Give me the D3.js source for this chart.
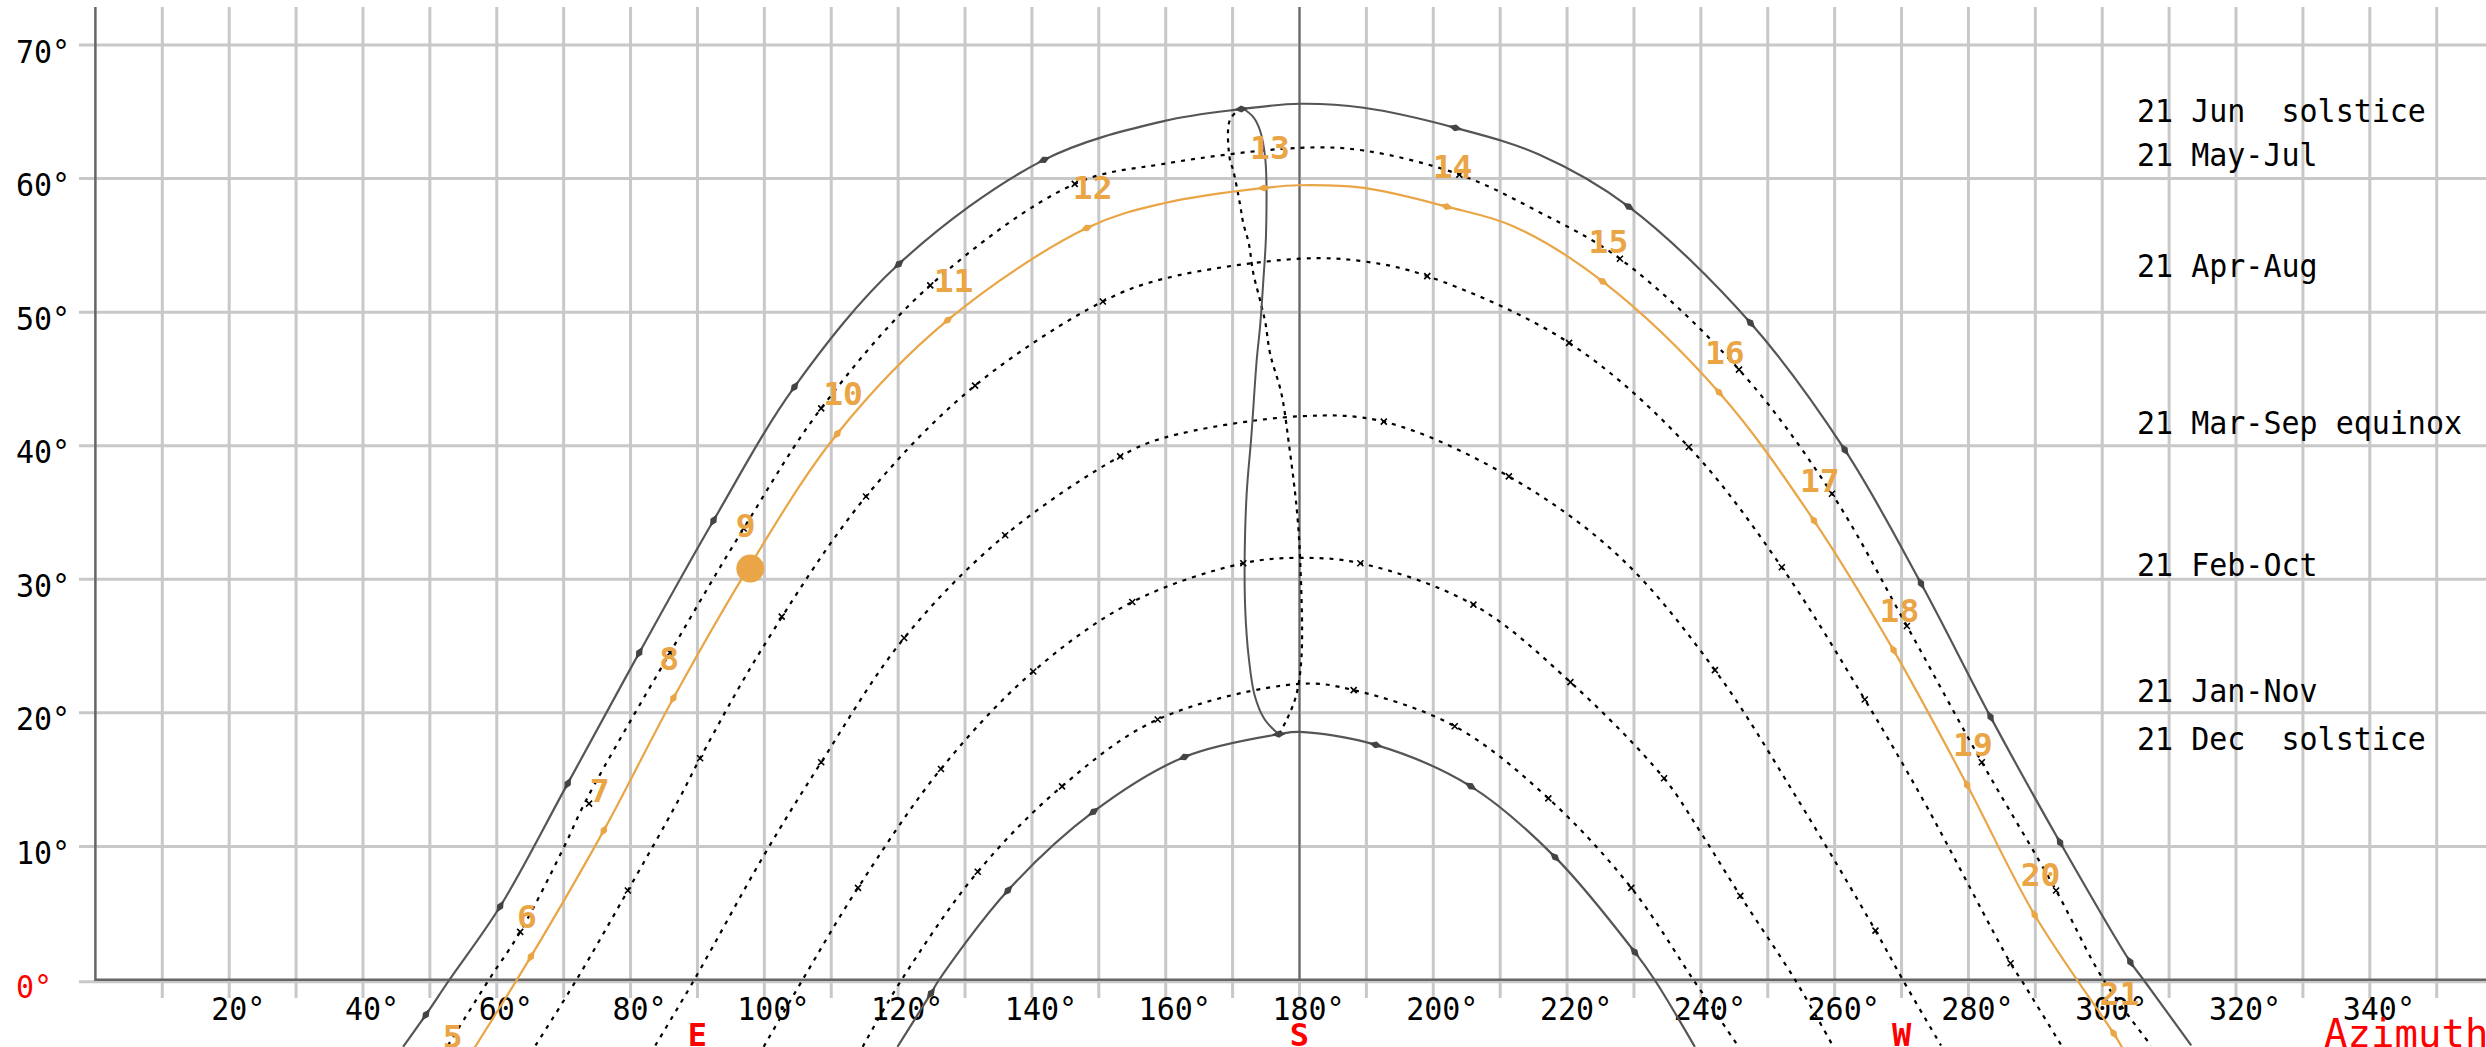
<!DOCTYPE html>
<html><head><meta charset="utf-8">
<script src="https://cdn.jsdelivr.net/npm/d3@7"></script>
<style>
html,body{margin:0;padding:0;background:#fff;overflow:hidden}
svg{display:block}
text{font-family:"DejaVu Sans Mono",monospace;white-space:pre}
</style></head><body>
<svg id="chart" width="2486" height="1047" xml:space="preserve"></svg>
<script>
// ---------- tick values ----------
const xGridValues = [10,20,30,40,50,60,70,80,90,100,110,120,130,140,150,160,170,180,190,200,210,220,230,240,250,260,270,280,290,300,310,320,330,340,350];
const xLabelValues = [20,40,60,80,100,120,140,160,180,200,220,240,260,280,300,320,340];
const yTickValues = [0,10,20,30,40,50,60,70];
const compassLabels = ["E","S","W"];
const compassAz = [90,180,270];
const axisTitle = "Azimuth";

// ---------- series (azimuth deg, altitude deg) ----------
const seriesNames = ["21 Jun  solstice","21 May-Jul","21 Apr-Aug","21 Mar-Sep equinox","21 Feb-Oct","21 Jan-Nov","21 Dec  solstice"];

const junSolstice = [[46.0,-5.0],[49.4,-2.6],[52.9,0],[60.5,5.5],[70.6,14.7],[81.3,24.5],[92.4,34.4],[104.5,44.4],[120.1,53.6],[141.8,61.4],[159.7,64.3],[171.3,65.2],[180,65.6],[189.6,65.3],[203.3,63.8],[215.8,61.8],[229.2,57.9],[247.4,49.2],[261.5,39.7],[272.9,29.7],[283.3,19.7],[293.7,10.3],[304.2,1.35],[306.2,0],[313.3,-4.9]];
const mayJul = [[52.7,-4.9],[58.8,0],[63.5,3.6],[70.0,9.9],[73.4,13.5],[85.9,24.5],[96.9,33.8],[108.5,42.8],[124.8,52.0],[146.4,59.6],[159.7,61.1],[180,62.3],[189.6,62.1],[203.9,60.3],[215.8,57.5],[227.9,54.0],[245.7,45.7],[259.6,36.4],[270.8,26.5],[282.0,16.3],[293.1,6.7],[300.2,0],[307.3,-4.9]];
const aprAug = [[65.8,-4.9],[71.9,0],[79.6,6.7],[87.2,13.5],[90.4,16.6],[99.9,25.0],[115.2,36.2],[131.5,44.5],[150.6,50.8],[159.7,52.5],[180,54.0],[189.6,53.8],[199.1,52.7],[220.3,47.7],[238.2,39.9],[252.1,30.9],[264.5,21.0],[273.2,13.5],[286.3,1.25],[287.9,0],[293.9,-4.9]];
const equinox = [[83.7,-4.9],[89.5,0],[99.9,9.3],[108.5,16.3],[120.9,25.6],[136.0,33.3],[153.2,39.2],[159.8,40.6],[180,42.2],[192.6,41.8],[211.3,37.7],[227.8,31.7],[242.1,23.2],[254.5,13.5],[266.1,3.7],[270.2,0],[275.9,-4.9]];
const febOct = [[99.9,-5.0],[105.7,0],[114.0,6.9],[126.4,15.8],[140.2,23.1],[155.0,28.3],[171.6,31.2],[180,31.6],[189.1,31.2],[206.0,28.1],[220.5,22.3],[234.5,15.1],[239.9,11.1],[245.9,6.3],[254.1,0],[259.7,-4.9]];
const janNov = [[114.7,-5.0],[120.5,0],[131.9,8.1],[144.5,14.5],[158.8,19.5],[180,22.17],[188.1,21.7],[203.2,19.0],[217.2,13.6],[229.6,6.9],[238.9,0],[245.5,-4.9]];
const decSolstice = [[119.9,-5.0],[124.9,-1.0],[126.1,0],[136.4,6.7],[149.2,12.6],[162.8,16.7],[176.9,18.4],[180,18.57],[191.4,17.6],[205.6,14.5],[218.2,9.2],[230.1,2.1],[233.1,0],[239.1,-5.0]];

// today's path (orange)
const todayPath = [[54.0,-7.2],[65.1,1.75],[76.0,11.2],[86.4,21.1],[97.8,31.0],[110.9,40.9],[127.4,49.4],[148.2,56.3],[159.7,58.15],[174.7,59.3],[180,59.5],[189.6,59.3],[202.0,57.9],[212.1,56.4],[225.3,52.3],[242.7,44.0],[256.9,34.4],[268.8,24.7],[279.8,14.6],[289.9,4.87],[301.7,-4.0],[303.5,-5.5]];
const todayHours = [5,6,7,8,9,10,11,12,13,14,15,16,17,18,19,20,21];
const todayMarkers = [[54.0,-7.2],[65.1,1.75],[76.0,11.2],[86.4,21.1],[97.8,31.0],[110.9,40.9],[127.4,49.4],[148.2,56.3],[174.7,59.3],[202.0,57.9],[225.3,52.3],[242.7,44.0],[256.9,34.4],[268.8,24.7],[279.8,14.6],[289.9,4.87],[301.7,-4.0]];
const sunNow = [97.9,30.8];

// hour markers on solstice curves
const junMarkers = [[49.4,-2.6],[60.5,5.5],[70.6,14.7],[81.3,24.5],[92.4,34.4],[104.5,44.4],[120.1,53.6],[141.8,61.4],[171.3,65.2],[203.3,63.8],[229.2,57.9],[247.4,49.2],[261.5,39.7],[272.9,29.7],[283.3,19.7],[293.7,10.3],[304.2,1.35]];
const decMarkers = [[124.9,-1.0],[136.4,6.7],[149.2,12.6],[162.8,16.7],[176.9,18.4],[191.4,17.6],[205.6,14.5],[218.2,9.2],[230.1,2.1]];

// hour ticks on dotted curves
const mayJulTicks = [[63.5,3.6],[73.8,13.2],[85.9,24.5],[96.9,33.8],[108.5,42.8],[124.8,52.0],[146.4,59.6],[203.9,60.3],[227.9,54.0],[245.7,45.7],[259.6,36.4],[270.8,26.5],[282.0,16.3],[293.1,6.7]];
const aprAugTicks = [[79.6,6.7],[90.4,16.6],[102.6,27.2],[115.2,36.2],[131.5,44.5],[150.6,50.8],[199.1,52.7],[220.3,47.7],[238.2,39.9],[252.1,30.9],[264.5,21.0],[286.3,1.25]];
const equinoxTicks = [[108.5,16.3],[120.9,25.6],[136.0,33.3],[153.2,39.2],[192.6,41.8],[211.3,37.7],[242.1,23.2],[266.1,3.7]];
const febOctTicks = [[114.0,6.9],[126.4,15.8],[140.2,23.1],[155.0,28.3],[171.6,31.2],[189.1,31.2],[206.0,28.1],[220.5,22.3],[234.5,15.1],[245.9,6.3]];
const janNovTicks = [[131.9,8.1],[144.5,14.5],[158.8,19.5],[188.1,21.7],[203.2,19.0],[217.2,13.6],[229.6,6.9]];

// analemma at 13h
const analemmaSolid = [[171.4,65.3],[173.1,64.6],[174.1,63.6],[174.9,61.4],[175.0,55.9],[174.6,52.4],[174.1,48.9],[173.6,46.4],[172.8,40.7],[172.1,36.4],[171.8,31.4],[171.9,27.6],[172.4,24.2],[173.3,21.3],[174.8,19.5],[176.9,18.4]];
const analemmaDotted = [[171.4,65.3],[169.6,64.4],[169.6,61.4],[170.1,60.6],[171.1,58.1],[171.6,56.65],[172.4,55.2],[173.1,52.9],[174.1,50.9],[174.9,49.2],[175.6,46.9],[177.3,43.9],[178.4,40.2],[179.6,35.2],[180.1,31.4],[180.3,24.2],[179.5,21.3],[178.1,19.5],[176.9,18.4]];

// ---------- drawing ----------
const W = 2486, H = 1047, TOP = 7;
const ORANGE = "#e9a546", DARK = "#555", GRID = "#c8c8c8", AXIS = "#666", RED = "#ff0000";
const svg = d3.select("#chart");
const x = d3.scaleLinear().domain([0,180]).range([95.4,1299.5]);
const y = d3.scaleLinear().domain([0,70]).range([980,45]);

svg.append("defs").append("clipPath").attr("id","plot")
  .append("rect").attr("x",x(0)).attr("y",TOP).attr("width",W-x(0)).attr("height",H-TOP);

// grid
const gv = svg.append("g");
gv.selectAll("line").data(xGridValues).join("line")
  .attr("x1",d=>x(d)).attr("x2",d=>x(d)).attr("y1",TOP).attr("y2",998)
  .attr("stroke",GRID).attr("stroke-width",3);
const gh = svg.append("g");
gh.selectAll("line").data(yTickValues).join("line")
  .attr("x1",79).attr("x2",W).attr("y1",d=>y(d)+(d===0?1.8:0)).attr("y2",d=>y(d)+(d===0?1.8:0))
  .attr("stroke",GRID).attr("stroke-width",3);

// axes
svg.append("line").attr("x1",x(0)).attr("x2",x(0)).attr("y1",TOP).attr("y2",y(0)+1)
  .attr("stroke",AXIS).attr("stroke-width",2.5);
svg.append("line").attr("x1",x(0)).attr("x2",W).attr("y1",y(0)-0.3).attr("y2",y(0)-0.3)
  .attr("stroke",AXIS).attr("stroke-width",2.6);
svg.append("line").attr("x1",x(180)).attr("x2",x(180)).attr("y1",TOP).attr("y2",y(0))
  .attr("stroke",AXIS).attr("stroke-width",2);

// text helper
function label(g, str, px, py, o) {
  o = o || {};
  return g.append("text")
    .attr("transform",`translate(${px},${py}) scale(${o.sx||1},${o.sy||1.06})`)
    .attr("font-size",o.size||30)
    .attr("font-weight",o.weight||"normal")
    .attr("fill",o.fill||"#000")
    .attr("text-anchor",o.anchor||"start")
    .text(str);
}
const CW = 30*0.602;
const tl = svg.append("g");
yTickValues.forEach(v => label(tl, v+"°", 16, y(v)+17.5, {fill: v===0?RED:"#000"}));
xLabelValues.forEach(v => label(tl, v+"°", x(v)-CW*String(v).length/2, 1020));
compassLabels.forEach((c,i) => label(tl, c, x(compassAz[i]), 1046, {anchor:"middle", weight:"bold", size:32, fill:RED, sy:1.02}));
label(tl, axisTitle, 2324, 1047, {size:39, fill:RED, sy:1.0});

// curves
const line = d3.line().x(d=>x(d[0])).y(d=>y(d[1])).curve(d3.curveCatmullRom.alpha(0.5));
const plot = svg.append("g").attr("clip-path","url(#plot)");

const dotted = [mayJul, aprAug, equinox, febOct, janNov];
dotted.forEach(s => plot.append("path").attr("d",line(s)).attr("fill","none")
  .attr("stroke","#000").attr("stroke-width",2.2).attr("stroke-dasharray","4 6"));
plot.append("path").attr("d",line(analemmaDotted)).attr("fill","none")
  .attr("stroke","#000").attr("stroke-width",2.2).attr("stroke-dasharray","4 5");

[junSolstice, decSolstice].forEach(s => plot.append("path").attr("d",line(s)).attr("fill","none")
  .attr("stroke",DARK).attr("stroke-width",2.2));
plot.append("path").attr("d",line(analemmaSolid)).attr("fill","none")
  .attr("stroke",DARK).attr("stroke-width",2);

plot.append("path").attr("d",line(todayPath)).attr("fill","none")
  .attr("stroke",ORANGE).attr("stroke-width",2.2);

// ticks on dotted curves
const xTick = "M-3,-3L3,3M-3,3L3,-3";
[mayJulTicks, aprAugTicks, equinoxTicks, febOctTicks, janNovTicks].forEach(t =>
  plot.append("g").selectAll("path").data(t).join("path")
    .attr("d",xTick).attr("transform",d=>`translate(${x(d[0])},${y(d[1])})`)
    .attr("stroke","#000").attr("stroke-width",1.6).attr("fill","none"));

// diamond markers oriented along curve
function markers(pts, color) {
  const g = plot.append("g");
  pts.forEach((d,i) => {
    const a = pts[Math.max(0,i-1)], b = pts[Math.min(pts.length-1,i+1)];
    const ang = Math.atan2(y(b[1])-y(a[1]), x(b[0])-x(a[0]))*180/Math.PI;
    g.append("path").attr("d","M-7,0L0,-3.5L7,0L0,3.5Z")
      .attr("transform",`translate(${x(d[0])},${y(d[1])}) rotate(${ang})`)
      .attr("fill",color);
  });
}
markers(junMarkers, "#444");
markers(decMarkers, "#444");
markers(todayMarkers, ORANGE);

// current sun
plot.append("circle").attr("cx",x(sunNow[0])).attr("cy",y(sunNow[1])).attr("r",14).attr("fill",ORANGE);

// hour labels
const hl = svg.append("g");
todayHours.forEach((h,i) => {
  const m = todayMarkers[i];
  label(hl, String(h), x(m[0])-14, y(m[1])-28.5, {fill:ORANGE, weight:"bold", sx:1.1, sy:1.05});
});

// legend labels
const allSeries = [junSolstice, mayJul, aprAug, equinox, febOct, janNov, decSolstice];
const lg = svg.append("g");
seriesNames.forEach((n,i) => {
  const peak = d3.max(allSeries[i], d=>d[1]);
  label(lg, n, 2137, y(peak)+18);
});
</script></body></html>
